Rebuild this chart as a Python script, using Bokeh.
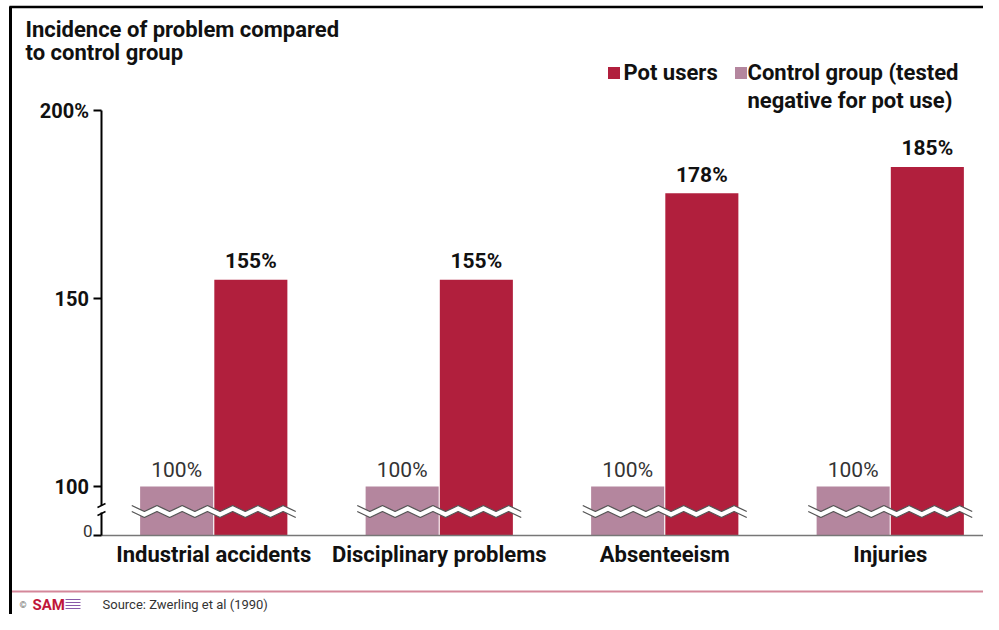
import numpy as np
from bokeh.plotting import figure
from bokeh.models import LinearAxis, FixedTicker, Range1d, ColumnDataSource
from bokeh.core.properties import value
from bokeh.embed import file_html
from bokeh.resources import INLINE

# ---------------- data ----------------
categories = ["Industrial accidents", "Disciplinary problems", "Absenteeism", "Injuries"]
pot_users = [155, 155, 178, 185]
control_group = [100, 100, 100, 100]
series_names = ["Pot users", "Control group (tested", "negative for pot use)"]
y_ticks = [0, 100, 150, 200]
y_tick_labels = ["0", "100", "150", "200%"]
title_lines = ["Incidence of problem compared", "to control group"]
source_text = "Source:  Zwerling et al (1990)"

POT_COLOR = "#B11F3D"
CTRL_COLOR = "#B4869E"
FONT = value("Roboto")

# ---------------- broken scale ----------------
BREAK_BASE = 87.0  # where 0 sits (the 0..100 span is squeezed)


def brk(v):
    return v if v >= 100 else BREAK_BASE + (100 - BREAK_BASE) * v / 100.0


# ---------------- geometry ----------------
W, H = 983, 614
PX_X, PX_Y = 225.5, 3.76
x_start = -100.5 / PX_X
x_end = x_start + W / PX_X
y_start = BREAK_BASE - (H - 535) / PX_Y
y_end = y_start + H / PX_Y
BL = 0.36  # baseline correction (em)


def px(sx):
    return x_start + sx / PX_X


def py(sy):
    return y_end - sy / PX_Y


def tb(sy, size):
    """y for a text whose alphabetic baseline should sit at screen y sy"""
    return py(sy - BL * size)


p = figure(width=W, height=H, x_range=Range1d(x_start, x_end), y_range=Range1d(y_start, y_end),
           x_axis_location=None, y_axis_location=None, output_backend="svg",
           toolbar_location=None, min_border=0)
p.outline_line_color = None
p.background_fill_color = "white"
p.border_fill_color = "white"

centers = np.arange(len(categories)) + 0.5
OFF = 0.1645
BW = 0.324
base = brk(0)

ctrl_src = ColumnDataSource(dict(x=centers - OFF, top=[brk(v) for v in control_group],
                                 lab=[f"{v}%" for v in control_group]))
pot_src = ColumnDataSource(dict(x=centers + OFF, top=[brk(v) for v in pot_users],
                                lab=[f"{v}%" for v in pot_users]))

p.vbar(x="x", top="top", bottom=base, width=BW, source=ctrl_src, fill_color=CTRL_COLOR, line_color=None)
p.vbar(x="x", top="top", bottom=base, width=BW, source=pot_src, fill_color=POT_COLOR, line_color=None)

# value labels
p.text(x="x", y="top", text="lab", source=pot_src, y_offset=-(11 + BL * 21), text_align="center",
       text_baseline="alphabetic", text_font=FONT, text_font_style="bold",
       text_font_size="21px", text_color="#111111")
p.text(x="x", y="top", text="lab", source=ctrl_src, y_offset=-(9 + BL * 21), text_align="center",
       text_baseline="alphabetic", text_font=FONT, text_font_style="normal",
       text_font_size="21px", text_color="#333333")

# wavy break across each group
half = 0.3636
n = 14
amp = 3 / PX_Y
band = 6 / PX_Y
ymid = py(508)
for cx in centers:
    xs = cx + np.linspace(-half, half, n)
    up = np.array([ymid + amp if i % 2 == 0 else ymid - amp for i in range(n)])
    lo = up - band
    p.patch(np.concatenate([xs, xs[::-1]]), np.concatenate([up, lo[::-1]]),
            fill_color="white", line_color=None)
    p.multi_line([list(xs), list(xs)], [list(up), list(lo)], line_color="#555555", line_width=1.3)

# axes
yaxis = LinearAxis(fixed_location=0, ticker=FixedTicker(ticks=[brk(t) for t in y_ticks]),
                   major_label_overrides={brk(t): (lab if t != 0 else "") for t, lab in zip(y_ticks, y_tick_labels)},
                   bounds=(brk(0), brk(200)))
yaxis.axis_line_color = "black"
yaxis.axis_line_width = 2
yaxis.major_tick_out = 8
yaxis.major_tick_in = 0
yaxis.major_tick_line_width = 2
yaxis.major_tick_line_color = "black"
yaxis.minor_tick_line_color = None
yaxis.major_label_standoff = 4
yaxis.major_label_text_font = "Roboto"
yaxis.major_label_text_font_style = "bold"
yaxis.major_label_text_font_size = "20px"
yaxis.major_label_text_color = "#111111"
p.add_layout(yaxis, "left")

xaxis = LinearAxis(fixed_location=base, ticker=FixedTicker(ticks=list(centers)),
                   major_label_overrides={float(c): cat for c, cat in zip(centers, categories)},
                   bounds=(0, x_end))
xaxis.axis_line_color = "#777777"
xaxis.axis_line_width = 1.5
xaxis.major_tick_line_color = None
xaxis.minor_tick_line_color = None
xaxis.major_tick_out = 0
xaxis.major_tick_in = 0
xaxis.major_label_standoff = 6
xaxis.major_label_text_font = "Roboto"
xaxis.major_label_text_font_style = "bold"
xaxis.major_label_text_font_size = "22px"
xaxis.major_label_text_color = "#111111"
p.add_layout(xaxis, "below")

# "0" tick label (regular weight)
p.text(x=[px(92)], y=[tb(537, 17)], text=[y_tick_labels[0]], text_align="right",
       text_baseline="alphabetic", text_font=FONT, text_font_size="17px", text_color="#333333")

# y-axis break mark
p.rect(x=[0], y=[py(508.5)], width=8, height=7, width_units="screen", height_units="screen",
       fill_color="white", line_color=None, level="overlay")
p.segment(x0=[px(97), px(97)], y0=[py(507), py(515)], x1=[px(105), px(105)], y1=[py(503), py(511)],
          line_color="black", line_width=1.5, level="overlay")

# title
p.text(x=[px(25), px(25)], y=[tb(37, 22), tb(60, 22)], text=title_lines, text_baseline="alphabetic",
       text_font=FONT, text_font_style="bold", text_font_size="22px", text_color="#111111")

# legend
p.scatter(x=[px(613.5), px(740.5)], y=[py(72.5), py(72.5)], marker="square", size=12,
          fill_color=[POT_COLOR, CTRL_COLOR], line_color=None)
p.text(x=[px(623), px(747), px(747)], y=[tb(80, 22), tb(80, 22), tb(108, 22)], text=series_names,
       text_baseline="alphabetic", text_font=FONT, text_font_style="bold",
       text_font_size="22px", text_color="#111111")

# frame lines
p.segment(x0=[px(9)], y0=[py(6.5)], x1=[x_end], y1=[py(6.5)], line_color="black", line_width=2.5)
p.segment(x0=[px(10)], y0=[py(6)], x1=[px(10)], y1=[y_start], line_color="black", line_width=3)

# footer
p.segment(x0=[px(11.5)], y0=[py(591)], x1=[x_end], y1=[py(591)], line_color="#D4879A", line_width=2)
p.text(x=[px(102)], y=[tb(609, 13)], text=[source_text], text_baseline="alphabetic",
       text_font=FONT, text_font_size="13px", text_color="#333333")
p.text(x=[px(19)], y=[py(604)], text=["©"], text_baseline="middle",
       text_font=FONT, text_font_size="9px", text_color="#666666")
p.text(x=[px(32)], y=[tb(610, 15)], text=["SAM"], text_baseline="alphabetic",
       text_font=FONT, text_font_style="bold", text_font_size="15px", text_color="#C0163A")
p.segment(x0=[px(65)] * 4, y0=[py(y) for y in (599, 602, 605, 608)],
          x1=[px(80)] * 4, y1=[py(y) for y in (599, 602, 605, 608)],
          line_color="#8A5AA8", line_width=1)

p.grid.visible = False

open("out.html", "w").write(file_html(p, INLINE))
